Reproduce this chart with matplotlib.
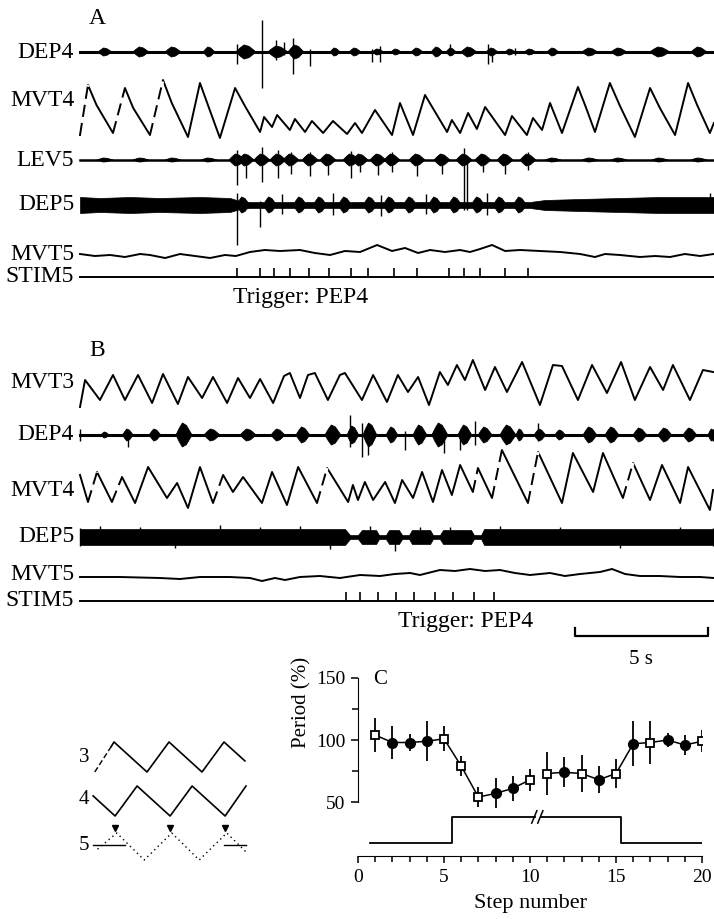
import numpy as np
import matplotlib.pyplot as plt

plt.rcParams['font.family'] = ['Liberation Serif', 'DejaVu Serif']
FS = 17      # trace labels in A and B
FS_C = 14    # panel C and schematic

# ---------------- panel A data (time in s, amplitude in px above the trace row) ----------
a_mvt4_t = [0.0, 0.30, 0.62, 1.24, 1.69, 2.0, 2.63, 3.12, 3.45, 4.06, 4.51, 4.85, 5.26, 5.83, 6.2,
            6.77, 6.92, 7.22, 7.41, 7.89, 8.08, 8.46, 8.72, 9.14, 9.51, 10.04, 10.34, 10.60, 11.09,
            11.73, 12.03, 12.52, 12.97, 13.80, 13.98, 14.29, 14.59, 14.92, 15.23, 15.98, 16.24, 16.80,
            17.03, 17.37, 17.67, 18.12, 18.72, 19.0, 19.36, 19.92, 20.3, 20.86, 21.43, 21.8, 22.37,
            22.86, 23.2, 23.68, 23.83]
a_mvt4_v = [3, 53, 33, 5, 50, 30, 3, 58, 35, 1, 55, 30, 0, 50, 32,
            6, 21, 11, 23, 8, 19, 6, 17, 5, 17, 4, 15, 5, 28,
            3, 35, 3, 43, 6, 18, 5, 25, 9, 31, 3, 22, 3,
            20, 8, 35, 5, 51, 32, 6, 55, 32, 1, 50, 30, 3,
            55, 33, 5, 15]
a_mvt4_dashed = [0.0, 1.24, 2.63]

a_dep4_burst_t = [0.94, 2.29, 3.50, 4.85, 6.24, 7.44, 8.12, 9.59, 10.34, 11.20, 11.88, 12.67,
                  13.42, 13.95, 14.62, 15.49, 16.17, 16.92, 17.78, 19.17, 20.26, 21.80, 23.27]
a_dep4_burst_w = [0.26, 0.3, 0.3, 0.22, 0.38, 0.38, 0.3, 0.19, 0.22, 0.22, 0.19, 0.22,
                  0.22, 0.19, 0.3, 0.22, 0.19, 0.22, 0.22, 0.3, 0.3, 0.38, 0.3]
a_dep4_burst_a = [4, 5, 5, 5, 7, 6, 7, 4, 4, 3, 3, 4, 5, 4, 5, 4, 3, 3, 4, 4, 4, 5, 5]
a_dep4_spike_t = [5.90, 6.84, 7.37, 7.67, 8.01, 8.65, 10.98, 11.28, 13.91, 15.34, 15.49, 16.35]
a_dep4_spike_up = [8, 32, 12, 10, 14, 3, 3, 6, 8, 8, 3, 4]
a_dep4_spike_dn = [12, 36, 8, 3, 22, 14, 10, 10, 3, 12, 10, 3]

a_lev5_t = [5.90, 6.24, 6.84, 7.44, 7.93, 8.65, 9.32, 10.19, 10.53, 11.20, 11.73, 12.67,
            13.61, 14.44, 15.15, 15.98, 16.84]
a_lev5_up = [10, 4, 13, 10, 8, 8, 6, 9, 4, 6, 8, 4, 6, 12, 5, 4, 8]
a_lev5_dn = [25, 18, 22, 18, 14, 16, 15, 18, 12, 15, 12, 16, 14, 50, 12, 14, 10]
a_lev5_quiet_t = [0.94, 2.29, 3.50, 4.85, 17.78, 19.17, 20.26, 21.80, 23.27]

a_dep5_env_t = [0.0, 0.75, 1.88, 3.0, 4.5, 5.64, 6.0, 6.39, 16.92, 17.48, 18.8, 20.3, 21.8, 23.83]
a_dep5_env_h = [8, 7, 8, 7, 8, 7, 4, 3, 3, 5, 6, 7, 8, 8]
a_dep5_burst_t = [6.13, 7.14, 8.27, 9.02, 9.96, 10.90, 11.65, 12.41, 13.35, 14.10, 14.96, 15.79, 16.54]
a_dep5_spike_t = [5.90, 6.77, 14.55, 23.68, 7.6, 9.5, 11.3, 13.0, 15.3]
a_dep5_spike_up = [12, 4, 45, 12, 11, 12, 10, 11, 12]
a_dep5_spike_dn = [40, 22, 5, 4, 9, 10, 11, 9, 10]

a_mvt5_t = [0.0, 0.56, 1.13, 1.69, 2.26, 2.63, 3.2, 3.76, 4.32, 4.89, 5.45, 5.86, 6.39, 6.95,
            7.52, 8.27, 8.83, 9.4, 9.96, 10.53, 11.17, 11.73, 12.22, 12.71, 13.16, 13.72, 14.29,
            14.66, 15.04, 15.49, 15.98, 16.54, 17.29, 18.05, 18.8, 19.36, 19.74, 20.3, 21.05,
            21.62, 22.18, 22.74, 23.31, 23.83]
a_mvt5_v = [3, 1, 2, 0, 3, 2, -1, 3, 1, -1, 2, 1, 5, 7,
            6, 7, 4, 2, 6, 5, 12, 6, 9, 4, 7, 5, 7,
            5, 8, 12, 6, 7, 6, 5, 3, 0, 3, 2, 0,
            1, 0, 3, 1, 3]
a_stim_t = [5.90, 6.77, 7.29, 7.89, 8.61, 9.36, 10.19, 10.83, 11.80, 12.67, 13.87, 14.44, 15.04, 15.98, 16.84]

# ---------------- panel B data ----------------
b_mvt3_t = [0.0, 0.19, 0.75, 1.24, 1.69, 2.18, 2.71, 3.12, 3.68, 4.06, 4.59, 5.0, 5.53, 5.94, 6.39,
            6.77, 7.26, 7.67, 7.89, 8.27, 8.57, 8.83, 9.32, 9.77, 9.96, 10.6, 11.02, 11.54, 11.95,
            12.33, 12.71, 13.12, 13.53, 13.83, 14.17, 14.47, 14.77, 15.23, 15.6, 16.05, 16.62,
            17.29, 17.78, 18.12, 18.72, 19.25, 19.81, 20.34, 20.86, 21.43, 21.92, 22.29, 22.93,
            23.42, 23.8]
b_mvt3_v = [-2, 25, 5, 30, 5, 30, 2, 31, 1, 28, 7, 28, 2, 27, 7,
            26, 2, 29, 32, 7, 30, 32, 5, 30, 32, 5, 30, 3, 30,
            13, 28, 0, 33, 20, 40, 25, 45, 15, 38, 13, 43,
            0, 40, 39, 5, 40, 12, 43, 5, 38, 15, 40, 5,
            35, 33]

b_dep4_burst_t = [0.94, 1.8, 2.82, 3.91, 4.96, 6.32, 7.44, 8.38, 9.51, 10.26, 10.9, 11.73, 12.78,
                  13.53, 14.47, 15.23, 16.09, 16.54, 17.29, 18.05, 19.17, 20.0, 21.05, 21.99, 22.93, 23.76]
b_dep4_burst_w = [0.15, 0.2, 0.22, 0.3, 0.3, 0.3, 0.26, 0.26, 0.3, 0.22, 0.26, 0.22, 0.26,
                  0.3, 0.26, 0.26, 0.3, 0.15, 0.22, 0.2, 0.26, 0.26, 0.26, 0.26, 0.26, 0.15]
b_dep4_burst_a = [3, 6, 6, 12, 6, 6, 6, 8, 10, 9, 12, 8, 10, 12, 10, 8, 10, 6, 6, 5, 8, 8, 7, 7, 7, 6]
b_dep4_spike_t = [0.0, 1.8, 10.15, 10.6, 10.83, 12.22, 13.68, 14.29, 14.85, 17.22, 23.8]
b_dep4_spike_up = [6, 3, 20, 12, 3, 4, 6, 3, 14, 12, 6]
b_dep4_spike_dn = [6, 12, 12, 22, 20, 15, 18, 15, 10, 6, 6]

b_mvt4_t = [0.0, 0.3, 0.64, 1.2, 1.58, 2.07, 2.56, 3.27, 3.65, 4.06, 4.51, 5.0, 5.38, 5.75, 6.13,
            6.84, 7.22, 7.78, 8.2, 8.91, 9.29, 10.08, 10.26, 10.45, 10.71, 11.02, 11.47, 11.84,
            12.11, 12.52, 12.86, 13.27, 13.61, 13.98, 14.29, 14.77, 14.96, 15.49, 15.86, 16.84,
            17.22, 18.12, 18.53, 19.29, 19.66, 20.41, 20.79, 21.43, 21.88, 22.56, 22.86, 23.68, 23.8]
b_mvt4_v = [35, 8, 38, 8, 33, 7, 43, 12, 27, 2, 43, 7, 35, 18, 33,
            7, 38, 5, 43, 7, 42, 8, 25, 10, 28, 10, 28, 7,
            30, 12, 38, 8, 40, 15, 45, 18, 42, 12, 60, 7,
            58, 7, 57, 18, 57, 12, 47, 10, 45, 7, 43, 0, 20]
b_mvt4_dashed = [0.3, 1.2, 5.0, 8.91, 14.77, 15.49, 16.84, 20.41]

b_dep5_env_t = [0.0, 9.96, 10.15, 10.45, 10.6, 11.13, 11.24, 11.5, 11.62, 11.99, 12.11, 12.37, 12.48,
                13.16, 13.27, 13.53, 13.65, 14.7, 14.81, 15.08, 15.19, 23.83]
b_dep5_env_h = [8, 8, 2, 2, 7, 7, 2, 2, 7, 7, 2, 2, 7, 7, 2, 2, 7, 7, 2, 2, 8, 8]
b_dep5_spike_t = [0.0, 0.75, 2.26, 3.57, 5.26, 6.77, 8.27, 9.4, 10.9, 11.84, 12.78, 13.91, 15.79,
                  18.05, 20.3, 22.56, 23.8]
b_dep5_spike_up = [9, 11, 10, 3, 12, 10, 11, 3, 11, 3, 10, 10, 11, 10, 3, 10, 9]
b_dep5_spike_dn = [9, 3, 3, 11, 3, 3, 3, 12, 3, 14, 3, 3, 3, 3, 11, 3, 9]

b_mvt5_t = [0.0, 1.5, 3.0, 3.76, 4.51, 5.64, 6.39, 6.84, 7.33, 7.71, 8.27, 9.02, 9.77, 10.53,
            11.28, 11.84, 12.41, 12.78, 13.53, 14.1, 14.66, 15.23, 15.79, 16.35, 16.92, 17.67,
            18.23, 18.8, 19.55, 20.0, 20.49, 21.05, 21.8, 22.56, 23.31, 23.83]
b_mvt5_v = [3, 3, 2, 1, 3, 3, 2, -1, 2, 0, 3, 4, 2, 5,
            4, 6, 7, 5, 10, 9, 11, 9, 10, 7, 5, 7,
            4, 6, 8, 11, 6, 4, 4, 3, 3, 2]
b_stim_t = [10.0, 10.53, 11.2, 11.88, 12.56, 13.35, 14.02, 14.81, 15.56]

# ---------------- panel C data ----------------
steps = np.arange(1, 21)
period = [104, 98, 98, 99, 101, 79, 54, 57, 61, 68, 73, 74, 73, 68, 73, 97, 98, 100, 96, 99]
period_err = [14, 13, 7, 16, 10, 8, 8, 12, 10, 9, 17, 12, 15, 11, 12, 18, 17, 6, 8, 9]
open_steps = [1, 5, 6, 7, 10, 11, 13, 15, 17, 20]
stim_on, stim_off = 5.45, 15.3

# schematic (phase in cycles, level 0..1)
sch3_ph = [-0.35, -0.05, 0.0, 0.6, 1.0, 1.6, 2.0, 2.38]
sch3_lv = [0.0, 0.85, 1.0, 0.0, 1.0, 0.0, 1.0, 0.37]
sch4_ph = [-0.38, 0.02, 0.42, 1.02, 1.42, 2.02, 2.4]
sch4_lv = [0.67, 0.0, 1.0, 0.0, 1.0, 0.0, 1.0]
sch5_ph = [-0.3, 0.05, 0.55, 1.05, 1.55, 2.05, 2.4]
sch5_lv = [0.4, 1.0, 0.0, 1.0, 0.0, 1.0, 0.3]
pep4_ph = [0.02, 1.02, 2.02]

# ---------------- figure ----------------
fig = plt.figure(figsize=(7.14, 9.19), dpi=100)
ax = fig.add_axes([0, 0, 1, 1])
PX = 26.6
ax.set_xlim(-80 / PX, 634 / PX)
ax.set_ylim(919, 0)
ax.axis('off')
T_END = 634 / PX


def label(row, name):
    ax.text(-0.22, row, name, ha='right', va='center', fontsize=FS)


def trace(row, t, v, dashed=(), lw=1.4):
    y = [row - a for a in v]
    ax.plot(t, y, color='black', lw=lw, solid_joinstyle='round')
    for i in range(len(t) - 1):
        if t[i] in dashed:
            ax.plot(t[i:i + 2], y[i:i + 2], color='white', lw=lw + 0.8, linestyle=(2, (2, 4)))


def bursts(row, ts, ws, amps):
    for c, w, a in zip(ts, ws, amps):
        xs = [c - w, c - 0.6 * w, c - 0.2 * w, c + 0.3 * w, c + w, c + 0.3 * w, c - 0.2 * w, c - 0.6 * w]
        ys = [row, row - 0.55 * a, row - a, row - 0.8 * a, row, row + 0.8 * a, row + a, row + 0.55 * a]
        ax.fill(xs, ys, color='black', lw=0.6)


def spikes(row, ts, up, dn, lw=1.0):
    ax.vlines(ts, [row + d for d in dn], [row - u for u in up], color='black', lw=lw)


def baseline(row, lw=1.6):
    ax.plot([0, T_END], [row, row], color='black', lw=lw)


def stim(row, ts):
    baseline(row, lw=1.4)
    ax.vlines(ts, row, row - 9, color='black', lw=1.2)


# ---- panel A ----
ax.text(0.64, 18, 'A', ha='center', va='center', fontsize=FS)
label(52, 'DEP4')
baseline(52, lw=2.2)
bursts(52, a_dep4_burst_t, a_dep4_burst_w, a_dep4_burst_a)
spikes(52, a_dep4_spike_t, a_dep4_spike_up, a_dep4_spike_dn)

label(100, 'MVT4')
trace(138, a_mvt4_t, a_mvt4_v, a_mvt4_dashed)

label(160, 'LEV5')
baseline(160, lw=1.8)
bursts(160, a_lev5_t, [0.3] * len(a_lev5_t), [6] * len(a_lev5_t))
bursts(160, a_lev5_quiet_t, [0.3] * len(a_lev5_quiet_t), [2] * len(a_lev5_quiet_t))
spikes(160, a_lev5_t, a_lev5_up, a_lev5_dn)

label(205, 'DEP5')
ax.fill_between(a_dep5_env_t, [205 - h for h in a_dep5_env_h], [205 + h for h in a_dep5_env_h],
                color='black', lw=0.5)
bursts(205, a_dep5_burst_t, [0.25] * len(a_dep5_burst_t), [8] * len(a_dep5_burst_t))
spikes(205, a_dep5_spike_t, a_dep5_spike_up, a_dep5_spike_dn)

label(254, 'MVT5')
trace(257, a_mvt5_t, a_mvt5_v)

label(277, 'STIM5')
stim(277, a_stim_t)
ax.text(8.3, 297, 'Trigger: PEP4', ha='center', va='center', fontsize=FS)

# ---- panel B ----
ax.text(0.64, 350, 'B', ha='center', va='center', fontsize=FS)
label(383, 'MVT3')
trace(405, b_mvt3_t, b_mvt3_v)

label(435, 'DEP4')
baseline(435, lw=2.2)
bursts(435, b_dep4_burst_t, b_dep4_burst_w, b_dep4_burst_a)
spikes(435, b_dep4_spike_t, b_dep4_spike_up, b_dep4_spike_dn)

label(490, 'MVT4')
trace(510, b_mvt4_t, b_mvt4_v, b_mvt4_dashed)

label(537, 'DEP5')
ax.fill_between(b_dep5_env_t, [537 - h for h in b_dep5_env_h], [537 + h for h in b_dep5_env_h],
                color='black', lw=0.5)
spikes(537, b_dep5_spike_t, b_dep5_spike_up, b_dep5_spike_dn)

label(575, 'MVT5')
trace(580, b_mvt5_t, b_mvt5_v)

label(601, 'STIM5')
stim(601, b_stim_t)
ax.text(14.5, 621, 'Trigger: PEP4', ha='center', va='center', fontsize=FS)

# scale bar 5 s
sb0 = 18.6
ax.plot([sb0, sb0, sb0 + 5, sb0 + 5], [628, 636, 636, 628], color='black', lw=1.6)
ax.text(sb0 + 2.5, 660, '5 s', ha='center', va='center', fontsize=FS_C + 1)

# ---- schematic ----
axs = fig.add_axes([80 / 714, (919 - 870) / 919, 180 / 714, 140 / 919])
axs.set_xlim((80 - 114) / 55, (260 - 114) / 55)
axs.set_ylim(870, 730)
axs.axis('off')
axs.plot(sch3_ph[1:], [772 - 30 * v for v in sch3_lv[1:]], color='black', lw=1.2)
axs.plot(sch3_ph[:2], [772 - 30 * v for v in sch3_lv[:2]], color='black', lw=1.0, linestyle=(0, (4, 2)))
axs.plot(sch4_ph, [816 - 30 * v for v in sch4_lv], color='black', lw=1.2)
axs.plot(sch5_ph, [860 - 27 * v for v in sch5_lv], color='black', lw=1.0, linestyle=(0, (1, 2.5)))
axs.plot([sch4_ph[0], 0.2], [845, 845], color='black', lw=1.0)
axs.plot([2.0, sch4_ph[-1]], [845, 845], color='black', lw=1.0)
axs.plot(pep4_ph, [828] * 3, 'v', color='black', ms=5)
for row, name in [(758, '3'), (799, '4'), (845, '5')]:
    axs.text((84 - 114) / 55, row, name, ha='center', va='center', fontsize=FS_C + 1)

# ---- panel C ----
axc = fig.add_axes([358 / 714, (919 - 856) / 919, (702 - 358) / 714, (856 - 678) / 919])
axc.set_xlim(0, 20)
axc.set_ylim(6.5, 150)
for s in ['top', 'right']:
    axc.spines[s].set_visible(False)
axc.spines['left'].set_bounds(50, 150)
axc.set_yticks([50, 100, 150])
axc.set_yticks([75, 125], minor=True)
axc.set_xticks([0, 5, 10, 15, 20])
axc.set_xticks(np.arange(0, 21), minor=True)
axc.tick_params(which='major', direction='out', length=5, width=1.1, labelsize=FS_C, pad=4)
axc.tick_params(which='minor', direction='out', length=4, width=1.1)
axc.set_ylabel('Period (%)', fontsize=FS_C + 1)
axc.yaxis.set_label_coords(-0.135, 0.86)
axc.set_xlabel('Step number', fontsize=FS_C + 2, labelpad=6)
axc.text(0.065, 0.99, 'C', transform=axc.transAxes, ha='center', va='center', fontsize=FS_C + 1)

per = np.array(period)
err = np.array(period_err)
for lo, hi in [(0, 10), (10, 20)]:
    axc.plot(steps[lo:hi], per[lo:hi], color='black', lw=1.1)
axc.vlines(steps, per - err, per + err, color='black', lw=1.3)
is_open = np.isin(steps, open_steps)
axc.plot(steps[~is_open], per[~is_open], 'o', color='black', ms=7)
axc.plot(steps[is_open], per[is_open], 's', mfc='white', mec='black', mew=1.3, ms=6)

low, high = 17, 38
axc.plot([0.7, stim_on, stim_on, 10.3], [low, low, high, high], color='black', lw=1.3)
axc.plot([10.65, stim_off, stim_off, 20], [high, high, low, low], color='black', lw=1.3)
axc.plot([10.1, 10.4], [high - 5, high + 5], color='black', lw=1.1)
axc.plot([10.45, 10.75], [high - 5, high + 5], color='black', lw=1.1)

fig.savefig('out.png', dpi=100)
